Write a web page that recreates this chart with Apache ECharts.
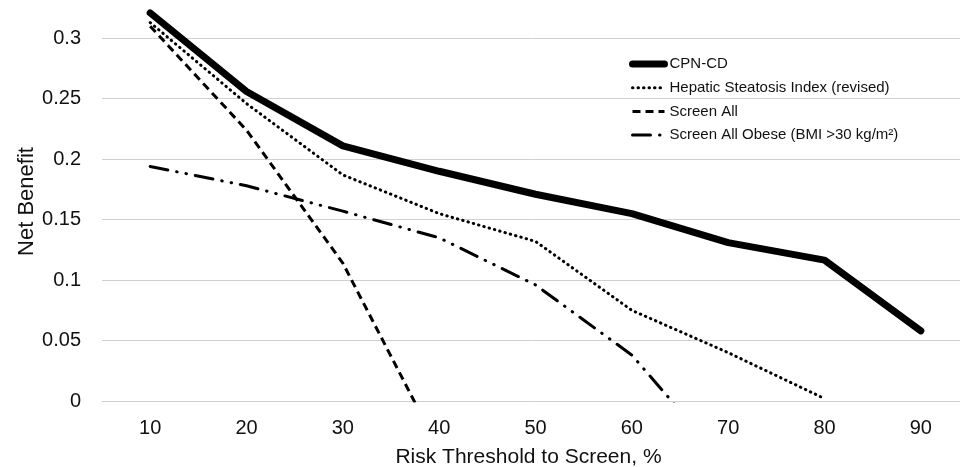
<!DOCTYPE html>
<html>
<head>
<meta charset="utf-8">
<script src="https://cdn.jsdelivr.net/npm/echarts@6/dist/echarts.min.js"></script>
<style>
  html, body { margin: 0; padding: 0; background: #fff; }
  #mainChart { width: 960px; height: 467px; }
</style>
</head>
<body>
<div id="mainChart"></div>
<script>
  // risk thresholds (%)
  var thresholds = ['10', '20', '30', '40', '50', '60', '70', '80', '90'];
  // net benefit per strategy
  var cpnCd = [0.321, 0.256, 0.211, 0.190, 0.171, 0.155, 0.131, 0.1165, 0.058];
  var hsiRevised = [0.313, 0.246, 0.187, 0.155, 0.132, 0.075, 0.040, 0.002, null];
  var screenAll = [0.310, 0.224, 0.114, -0.040, null, null, null, null, null];
  var screenObese = [0.194, 0.178, 0.157, 0.135, 0.096, 0.038, -0.054, null, null];
  var seriesNames = ['CPN-CD', 'Hepatic Steatosis Index (revised)', 'Screen All', 'Screen All Obese (BMI >30 kg/m\u00B2)'];

  var font = 'Liberation Sans, Arial, sans-serif';
  var mainChart = echarts.init(document.getElementById('mainChart'));

  // line styles shared by series and legend
  var styles = [
    { color: '#000', width: 7, cap: 'round', join: 'round' },
    { color: '#000', width: 3, type: [0.5, 5], cap: 'round' },
    { color: '#000', width: 3, type: [8, 5] },
    { color: '#000', width: 3, type: [18, 9, 0.5, 9, 0.5, 9], cap: 'round' }
  ];
  var seriesData = [cpnCd, hsiRevised, screenAll, screenObese];

  var options = {
    animation: false,
    backgroundColor: '#fff',
    grid: {
      left: 102,
      right: -9,
      top: 2,
      bottom: 66,
      outerBoundsMode: 'none',
      containLabel: false
    },
    legend: {
      orient: 'vertical',
      left: 629,
      top: 56.5,
      padding: 0,
      itemWidth: 32,
      itemHeight: 14,
      itemGap: 8.7,
      itemStyle: { opacity: 0 },
      textStyle: { fontFamily: font, fontSize: 15, color: '#111' },
      data: seriesNames.map(function (n, i) {
        return { name: n, lineStyle: styles[i], itemStyle: { opacity: 0 } };
      })
    },
    xAxis: {
      type: 'category',
      data: thresholds,
      boundaryGap: true,
      name: 'Risk Threshold to Screen, %',
      nameLocation: 'middle',
      nameGap: 46,
      nameMoveOverlap: false,
      nameTextStyle: { fontFamily: font, fontSize: 21, color: '#111', padding: [0, 14, 0, 0] },
      axisTick: { show: false },
      axisLine: { lineStyle: { color: '#d0d0d0', width: 1 } },
      axisLabel: { fontFamily: font, fontSize: 20, color: '#111', margin: 17 }
    },
    yAxis: {
      type: 'value',
      min: 0,
      max: 0.33,
      interval: 0.05,
      name: 'Net Benefit',
      nameLocation: 'middle',
      nameGap: 64,
      nameMoveOverlap: false,
      nameTextStyle: { fontFamily: font, fontSize: 22, color: '#111' },
      axisLine: { show: false },
      axisTick: { show: false },
      axisLabel: { fontFamily: font, fontSize: 20, color: '#111', margin: 21, showMaxLabel: false },
      splitLine: { showMaxLine: false, lineStyle: { color: '#d0d0d0', width: 1 } }
    },
    series: seriesNames.map(function (n, i) {
      return {
        name: n,
        type: 'line',
        data: seriesData[i],
        symbol: 'none',
        z: i === 0 ? 5 : 2,
        lineStyle: styles[i],
        itemStyle: { color: '#000' }
      };
    })
  };

  mainChart.setOption(options);
</script>
</body>
</html>
